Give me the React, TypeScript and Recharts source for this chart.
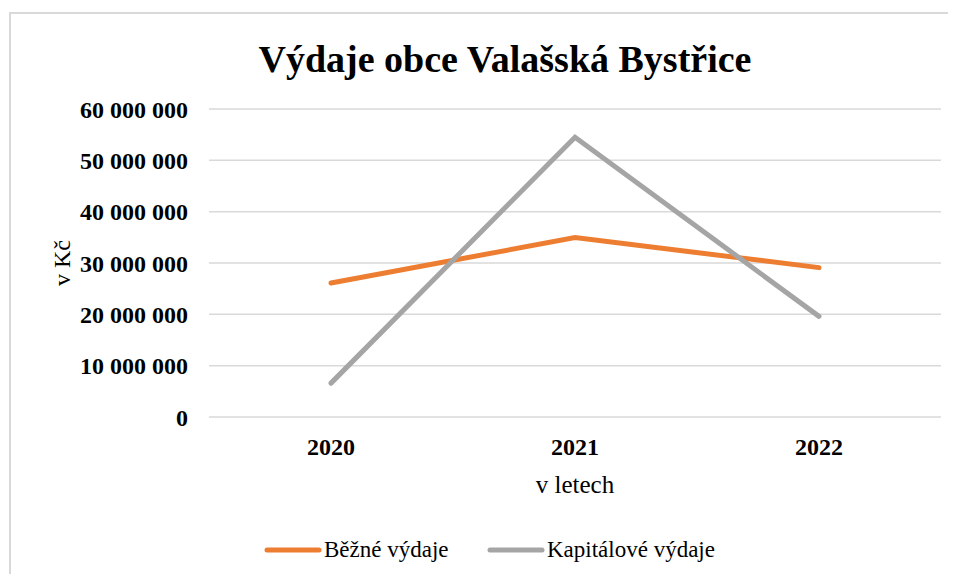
import React from "react";
import {
  LineChart,
  Line,
  CartesianGrid,
  XAxis,
  YAxis,
  Legend,
} from "recharts";

const years = ["2020", "2021", "2022"];
const bezneVydaje = [26100000, 34950000, 29100000];
const kapitaloveVydaje = [6600000, 54500000, 19600000];
const yTicks = [0, 10000000, 20000000, 30000000, 40000000, 50000000, 60000000];

const seriesNames = ["Běžné výdaje", "Kapitálové výdaje"];
const ORANGE = "#ED7D31";
const GRAY = "#A5A5A5";
const FONT = "'Liberation Serif', 'Times New Roman', serif";

const data = years.map((year, i) => ({
  year,
  bezne: bezneVydaje[i],
  kapitalove: kapitaloveVydaje[i],
}));

// "60 000 000"
function formatCzk(v: number) {
  return v.toString().replace(/\B(?=(\d{3})+(?!\d))/g, " ");
}

const YLabel = (props: any) => {
  const { viewBox } = props;
  const cy = viewBox.y + viewBox.height / 2;
  const cx = 54;
  return (
    <text
      x={cx}
      y={cy}
      dy="0.35em"
      textAnchor="middle"
      transform={`rotate(-90, ${cx}, ${cy})`}
      fontFamily={FONT}
      fontSize={24}
      fill="#000"
    >
      v Kč
    </text>
  );
};

const LegendContent = () => {
  const items = [
    { name: seriesNames[0], color: ORANGE, left: 256 },
    { name: seriesNames[1], color: GRAY, left: 479 },
  ];
  return (
    <div style={{ position: "relative", height: 30 }}>
      {items.map((it) => (
        <div
          key={it.name}
          style={{
            position: "absolute",
            left: it.left,
            top: 0,
            height: 30,
            display: "flex",
            alignItems: "center",
            whiteSpace: "nowrap",
          }}
        >
          <svg width={58} height={10} style={{ marginRight: 2 }}>
            <line
              x1={3}
              y1={5}
              x2={55}
              y2={5}
              stroke={it.color}
              strokeWidth={5}
              strokeLinecap="round"
            />
          </svg>
          <span style={{ fontFamily: FONT, fontSize: 23, color: "#000" }}>
            {it.name}
          </span>
        </div>
      ))}
    </div>
  );
};

export default function App() {
  return (
    <div
      style={{
        position: "relative",
        width: 940,
        height: 566,
        overflow: "hidden",
        background: "#fff",
      }}
    >
      <div
        style={{
          position: "absolute",
          left: 1,
          top: 4,
          width: 1100,
          height: 700,
          border: "2px solid #D9D9D9",
          boxSizing: "border-box",
        }}
      />
      <div
        style={{
          position: "absolute",
          left: 0,
          width: 994,
          top: 29,
          textAlign: "center",
          fontFamily: FONT,
          fontWeight: "bold",
          fontSize: 38,
          lineHeight: "normal",
          color: "#000",
          whiteSpace: "nowrap",
        }}
      >
        Výdaje obce Valašská Bystřice
      </div>
      <div style={{ position: "absolute", left: 0, top: 0 }}>
        <LineChart
          width={940}
          height={566}
          data={data}
          margin={{ top: 101, right: 7, left: 0, bottom: 0 }}
        >
          <CartesianGrid
            vertical={false}
            stroke="#D9D9D9"
            strokeWidth={1.5}
          />
          <XAxis
            dataKey="year"
            height={157}
            axisLine={false}
            tickLine={false}
            tickSize={0}
            tickMargin={21}
            padding={{ left: 122, right: 122 }}
            tick={{ fill: "#000", fontFamily: FONT, fontSize: 24, fontWeight: "bold" }}
            label={{
              value: "v letech",
              position: "insideTop",
              offset: 58,
              fill: "#000",
              fontFamily: FONT,
              fontSize: 25,
            }}
          />
          <YAxis
            width={201}
            domain={[0, 60000000]}
            ticks={yTicks}
            interval={0}
            axisLine={false}
            tickLine={false}
            tickSize={0}
            tickMargin={21}
            tickFormatter={formatCzk}
            tick={{ fill: "#000", fontFamily: FONT, fontSize: 24, fontWeight: "bold" }}
            label={<YLabel />}
          />
          <Legend
            verticalAlign="middle"
            align="center"
            layout="horizontal"
            content={<LegendContent />}
            wrapperStyle={{ top: 527, left: 0, width: 940, height: 30 }}
          />
          <Line
            dataKey="bezne"
            name={seriesNames[0]}
            stroke={ORANGE}
            strokeWidth={5}
            strokeLinecap="round"
            dot={false}
            activeDot={false}
            isAnimationActive={false}
          />
          <Line
            dataKey="kapitalove"
            name={seriesNames[1]}
            stroke={GRAY}
            strokeWidth={5}
            strokeLinecap="round"
            dot={false}
            activeDot={false}
            isAnimationActive={false}
          />
        </LineChart>
      </div>
    </div>
  );
}
